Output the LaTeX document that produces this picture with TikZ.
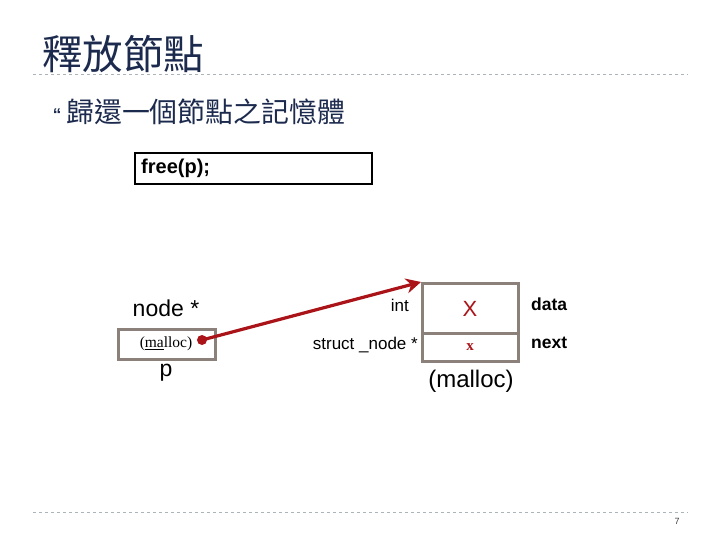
\documentclass[tikz,border=0pt]{standalone}
\usepackage{fontspec}
\setmainfont{Liberation Serif}
\setsansfont{Liberation Sans}
\newfontfamily\cjk{Noto Sans CJK TC}
\usetikzlibrary{arrows.meta}
\definecolor{navy}{RGB}{28,42,78}
\definecolor{boxgray}{RGB}{140,128,122}
\definecolor{arrred}{RGB}{170,20,25}
\definecolor{dashgray}{RGB}{170,180,185}
\begin{document}
\begin{tikzpicture}[x=1pt,y=-1pt,
  lbl/.style={inner sep=0pt,font=\sffamily},
  cell/.style={draw=boxgray,line width=2.5pt}]
\useasboundingbox (0,0) rectangle (720,540);
% title
\node[anchor=west,inner sep=0pt,text=navy,font=\cjk\fontsize{40.5}{42}\selectfont] (title) at (42,54) {釋放節點};
\draw[dashgray,dashed,line width=0.8pt] (33,74) -- (688,74);
\node[inner sep=0pt,text=navy,font=\sffamily\bfseries\fontsize{17}{17}\selectfont] (bul) at (57,115) {“};
\node[anchor=west,inner sep=0pt,text=navy,font=\cjk\fontsize{27.9}{29}\selectfont] (sub) at (66,112) {歸還一個節點之記憶體};
% free box
\node[draw=black,line width=1.8pt,minimum width=237pt,minimum height=31pt,anchor=north west,inner sep=0pt] (freebox) at (134,152) {};
\node[lbl,anchor=west,font=\sffamily\bfseries\fontsize{20}{20}\selectfont] (freetxt) at (141,168) {free(p);};
% pointer p
\node[lbl,font=\sffamily\fontsize{23}{23}\selectfont] (nodestar) at (166,308) {node *};
\node[cell,minimum width=97pt,minimum height=30pt,anchor=north west,inner sep=0pt] (pbox) at (117,328) {};
\node[inner sep=0pt,font=\fontsize{15.5}{15.5}\selectfont] (malloc1) at (166,344) {(\underline{ma}lloc)};
\node[lbl,font=\sffamily\fontsize{23}{23}\selectfont] (plbl) at (166,373) {p};
% struct
\node[cell,minimum width=96pt,minimum height=50pt,anchor=north west,inner sep=0pt] (databox) at (421,282) {};
\node[cell,minimum width=96pt,minimum height=28pt,anchor=north west,inner sep=0pt] (nextbox) at (421,332) {};
\node[inner sep=0pt,text=arrred,font=\sffamily\fontsize{22}{22}\selectfont] (xa) at (470,309) {X};
\node[inner sep=0pt,text=arrred,font=\bfseries\fontsize{15}{15}\selectfont] (xb) at (470,347) {x};
\node[lbl,anchor=west,font=\sffamily\bfseries\fontsize{17.5}{17.5}\selectfont] (datal) at (531,304) {data};
\node[lbl,anchor=west,font=\sffamily\bfseries\fontsize{17.5}{17.5}\selectfont] (nextl) at (531,343) {next};
\node[lbl,anchor=east,font=\sffamily\fontsize{17}{17}\selectfont] (intl) at (409,305) {int};
\node[lbl,anchor=east,font=\sffamily\fontsize{17}{17}\selectfont] (structl) at (418,345) {struct \_node *};
\node[lbl,font=\sffamily\fontsize{24}{24}\selectfont] (malloc2) at (471,381) {(malloc)};
% arrow
\coordinate (dot) at (202,340);
\fill[arrred] (dot) circle (5pt);
\draw[arrred,line width=3.2pt,-{Stealth[length=15pt,width=15pt]}] (dot) -- (databox.north west);
% footer
\draw[dashgray,dashed,line width=0.8pt] (33,512) -- (688,512);
\node[lbl,font=\sffamily\fontsize{9}{9}\selectfont,text=darkgray] (pg) at (677,521) {7};
\end{tikzpicture}
\end{document}
